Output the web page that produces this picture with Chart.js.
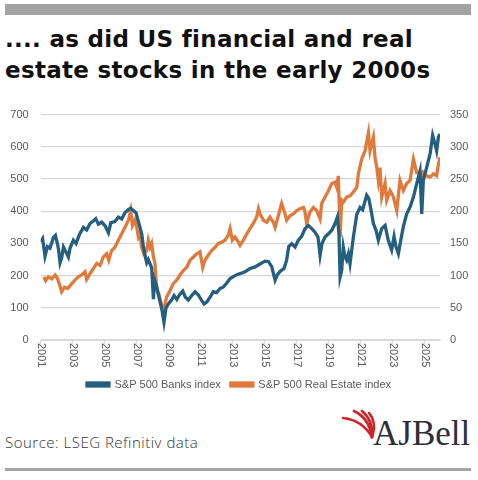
<!DOCTYPE html>
<html>
<head>
<meta charset="utf-8">
<script src="https://cdn.jsdelivr.net/npm/chart.js@4.4.1/dist/chart.umd.min.js"></script>
<style>
  body { margin: 0; background: #fff; }
  #page { position: relative; width: 478px; height: 480px; overflow: hidden; }
  .bar { position: absolute; left: 5px; width: 466px; background: #a3a3a3; }
  #title {
    position: absolute; left: 5px; top: 24px;
    font-family: "DejaVu Sans", sans-serif; font-weight: bold; font-size: 23px;
    letter-spacing: 0.3px; line-height: 31px; color: #111; white-space: nowrap;
  }
  #chartBox { position: absolute; left: 0; top: 100px; width: 478px; height: 300px; }
  #source {
    position: absolute; left: 5px; top: 432px; letter-spacing: 0.5px;
    font-family: "Open Sans", sans-serif; font-weight: 300; font-size: 15px; color: #333;
  }
  #logo { position: absolute; left: 340px; top: 400px; }
</style>
</head>
<body>
<div id="page">
  <div class="bar" style="top:4px;height:11px"></div>
  <div id="title">.... as did US financial and real<br>estate stocks in the early 2000s</div>
  <div id="chartBox"><canvas id="chart" width="478" height="300"></canvas></div>
  <div id="source">Source: LSEG Refinitiv data</div>
  <svg id="logo" width="135" height="56">
    <g fill="none" stroke="#d2232a" stroke-linecap="round">
      <path d="M3,18 Q22,20 32,37" stroke-width="2.5"/>
      <path d="M14,11 Q29,18 32,37" stroke-width="2.8"/>
      <path d="M22,11 Q33,20 32,37" stroke-width="2.8"/>
      <path d="M29,13 Q37,22 32,37" stroke-width="2.5"/>
    </g>
    <text x="33" y="45" font-family="Liberation Serif, serif" font-size="35" fill="#2d2e3d">AJBell</text>
  </svg>
  <div class="bar" style="top:468px;height:3px"></div>
</div>
<script>
// x positions are in axis-label years
const yearTicks = [2001, 2003, 2005, 2007, 2009, 2011, 2013, 2015, 2017, 2019, 2021, 2023, 2025];
const leftTicks = [0, 100, 200, 300, 400, 500, 600, 700];
const rightTicks = [0, 50, 100, 150, 200, 250, 300, 350];

// S&P 500 Banks index (left axis)
const bankDates = [2001.00,2001.12,2001.27,2001.42,2001.58,2001.79,2001.92,2002.04,2002.12,2002.21,
  2002.31,2002.42,2002.56,2002.73,2002.83,2003.04,2003.21,2003.42,2003.67,2003.87,
  2004.08,2004.29,2004.44,2004.60,2004.81,2005.02,2005.23,2005.38,2005.64,2005.85,
  2006.06,2006.27,2006.48,2006.62,2006.79,2006.96,2007.06,2007.20,2007.31,2007.41,
  2007.52,2007.62,2007.72,2007.83,2007.93,2008.04,2008.12,2008.25,2008.41,2008.58,
  2008.70,2008.83,2008.97,2009.18,2009.33,2009.50,2009.66,2009.87,2010.04,2010.22,
  2010.43,2010.64,2010.85,2011.06,2011.20,2011.37,2011.58,2011.78,2011.99,2012.20,
  2012.41,2012.62,2012.83,2013.03,2013.24,2013.45,2013.76,2014.07,2014.39,2014.70,
  2015.01,2015.22,2015.43,2015.64,2015.78,2015.99,2016.20,2016.36,2016.49,2016.68,
  2016.89,2017.09,2017.30,2017.51,2017.72,2017.93,2018.13,2018.32,2018.45,2018.57,
  2018.76,2018.97,2019.18,2019.38,2019.53,2019.63,2019.70,2019.80,2019.90,2020.01,
  2020.11,2020.22,2020.32,2020.53,2020.74,2020.95,2021.11,2021.26,2021.36,2021.49,
  2021.61,2021.78,2021.95,2022.09,2022.30,2022.51,2022.71,2022.92,2023.07,2023.19,
  2023.34,2023.49,2023.65,2023.86,2024.07,2024.28,2024.48,2024.69,2024.80,2024.90,
  2025.11,2025.32,2025.48,2025.63,2025.73,2025.84,2025.94];
const bankValues = [305,315,260,290,285,318,325,300,280,240,
  255,289,275,258,285,310,300,328,350,342,
  362,370,377,360,366,355,333,365,368,382,
  376,396,405,410,402,395,375,350,330,292,
  262,240,250,236,225,127,185,165,128,92,
  55,100,112,125,138,126,140,152,133,124,
  138,150,140,122,112,118,133,150,147,160,
  165,177,191,197,203,206,212,222,227,236,
  245,244,228,186,203,215,222,248,290,299,
  289,310,322,346,356,346,335,320,263,300,
  320,330,341,361,382,330,196,217,289,258,
  248,268,237,320,390,412,405,432,450,440,
  410,362,340,310,346,356,310,280,322,290,
  268,310,352,392,413,444,485,525,392,496,
  537,578,636,609,588,630,640];

// S&P 500 Real Estate index (right axis)
const reDates = [2001.20,2001.31,2001.48,2001.69,2001.90,2002.04,2002.15,2002.31,2002.48,2002.69,
  2002.89,2003.14,2003.35,2003.56,2003.77,2003.87,2004.08,2004.29,2004.50,2004.71,
  2004.91,2005.12,2005.25,2005.43,2005.64,2005.85,2006.06,2006.27,2006.48,2006.62,
  2006.73,2006.87,2007.00,2007.10,2007.20,2007.31,2007.44,2007.62,2007.72,2007.83,
  2007.93,2008.04,2008.14,2008.25,2008.37,2008.48,2008.62,2008.72,2008.87,2009.08,
  2009.29,2009.49,2009.70,2009.91,2010.12,2010.33,2010.54,2010.74,2010.95,2011.12,
  2011.26,2011.47,2011.68,2011.89,2012.10,2012.31,2012.51,2012.72,2012.83,2012.97,
  2013.14,2013.35,2013.45,2013.66,2013.87,2014.07,2014.28,2014.49,2014.60,2014.70,
  2014.91,2015.12,2015.32,2015.53,2015.64,2015.84,2016.05,2016.26,2016.36,2016.57,
  2016.78,2016.99,2017.20,2017.41,2017.51,2017.61,2017.82,2018.03,2018.24,2018.45,
  2018.55,2018.76,2018.97,2019.18,2019.38,2019.49,2019.59,2019.70,2019.80,2019.90,
  2020.11,2020.32,2020.53,2020.74,2020.84,2021.05,2021.26,2021.47,2021.57,2021.78,
  2021.88,2021.99,2022.09,2022.19,2022.30,2022.51,2022.61,2022.82,2023.03,2023.24,
  2023.44,2023.65,2023.86,2024.07,2024.28,2024.48,2024.69,2024.80,2024.90,2025.11,
  2025.32,2025.53,2025.73,2025.84,2025.94];
const reValues = [98,92,98,95,101,96,88,75,82,80,
  86,93,98,101,106,94,103,111,119,116,
  129,134,124,139,144,155,165,175,186,201,
  178,186,175,160,165,144,134,139,155,144,
  150,129,119,77,72,62,46,52,67,77,
  88,93,101,108,113,124,129,134,137,113,
  124,132,139,144,150,152,155,163,173,155,
  160,152,147,155,165,173,181,191,204,196,
  186,183,191,183,175,193,212,196,186,193,
  196,201,204,206,199,181,199,206,201,188,
  212,222,232,243,245,237,255,160,217,214,
  222,224,230,237,258,281,294,322,294,315,
  284,268,248,268,222,243,217,232,222,201,
  248,232,243,248,281,260,260,235,260,255,
  253,258,255,273,284];

const axisFont = { family: 'Liberation Sans, Arial, sans-serif', size: 11 };
const axisColor = '#595959';
const gridColor = '#d9d9d9';

// labels of the date axis read top to bottom
const yearLabels = {
  id: 'yearLabels',
  afterDraw(chart) {
    const x = chart.scales.x;
    const ctx = chart.ctx;
    ctx.save();
    ctx.fillStyle = axisColor;
    ctx.font = axisFont.size + 'px ' + axisFont.family;
    ctx.textAlign = 'left';
    ctx.textBaseline = 'middle';
    yearTicks.forEach(yr => {
      ctx.save();
      ctx.translate(x.getPixelForValue(yr), x.top + 3);
      ctx.rotate(Math.PI / 2);
      ctx.fillText(String(yr), 0, 0);
      ctx.restore();
    });
    ctx.restore();
  }
};

// keep the plot area where the reference has it
function fixWidth(w) {
  return s => { s.width = w; s.paddingTop = 0; s.paddingBottom = 0; };
}

new Chart(document.getElementById('chart'), {
  type: 'line',
  data: {
    datasets: [{
      label: 'S&P 500 Banks index',
      data: bankDates.map((d, i) => ({ x: d, y: bankValues[i] })),
      borderColor: '#245f80',
      backgroundColor: '#245f80',
      borderWidth: 3.3,
      pointRadius: 0,
      tension: 0,
      yAxisID: 'y'
    }, {
      label: 'S&P 500 Real Estate index',
      data: reDates.map((d, i) => ({ x: d, y: reValues[i] })),
      borderColor: '#e07a3c',
      backgroundColor: '#e07a3c',
      borderWidth: 3.3,
      pointRadius: 0,
      tension: 0,
      yAxisID: 'y1'
    }]
  },
  options: {
    responsive: false,
    animation: false,
    devicePixelRatio: 1,
    layout: { padding: { top: 14.7, left: 0, right: 0, bottom: 0 } },
    plugins: {
      legend: {
        position: 'bottom',
        labels: {
          boxWidth: 22,
          boxHeight: 3,
          color: axisColor,
          font: axisFont,
          padding: 10
        }
      },
      tooltip: { enabled: false }
    },
    scales: {
      x: {
        type: 'linear',
        min: 2001,
        max: 2025.94,
        afterBuildTicks: s => { s.ticks = yearTicks.map(v => ({ value: v })); },
        afterFit: s => { s.height = 29; },
        ticks: { display: false },
        grid: { drawOnChartArea: false, drawTicks: true, tickLength: 4, color: gridColor },
        border: { display: true, color: gridColor }
      },
      y: {
        position: 'left',
        min: 0,
        max: 700,
        afterBuildTicks: s => { s.ticks = leftTicks.map(v => ({ value: v })); },
        afterFit: fixWidth(40.7),
        ticks: { color: axisColor, font: axisFont, padding: 12 },
        grid: { color: gridColor, drawTicks: false, lineWidth: 1.2 },
        border: { display: false }
      },
      y1: {
        position: 'right',
        min: 0,
        max: 350,
        afterBuildTicks: s => { s.ticks = rightTicks.map(v => ({ value: v })); },
        afterFit: fixWidth(38),
        ticks: { color: axisColor, font: axisFont, padding: 10 },
        grid: { drawOnChartArea: false, drawTicks: false },
        border: { display: false }
      }
    }
  },
  plugins: [yearLabels]
});
</script>
</body>
</html>
